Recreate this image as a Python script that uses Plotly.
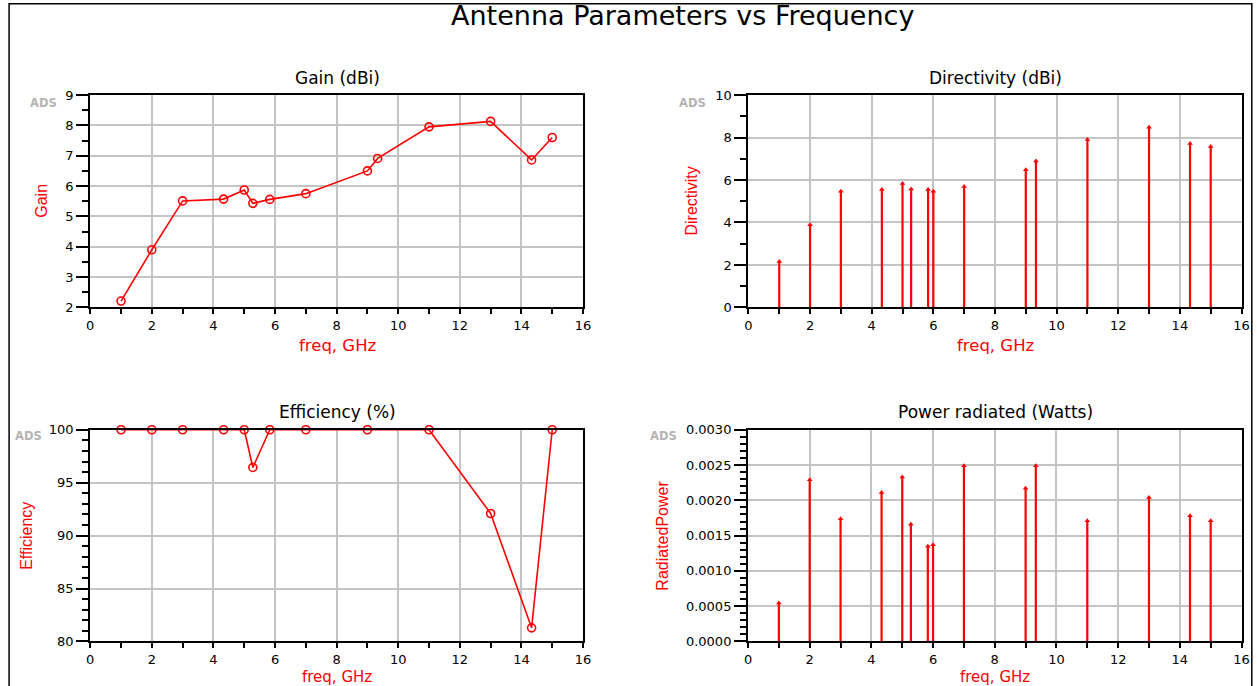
import plotly.graph_objects as go

# ---------------- data ----------------
freq_all = [1, 2, 3, 4.33, 5, 5.28, 5.83, 6, 7, 9, 9.33, 11, 13, 14.33, 15]

gain_freq = [1, 2, 3, 4.33, 5, 5.28, 5.83, 7, 9, 9.33, 11, 13, 14.33, 15]
gain_dbi = [2.21, 3.90, 5.51, 5.57, 5.87, 5.43, 5.56, 5.75, 6.50, 6.91, 7.95, 8.13, 6.86, 7.60]

directivity_dbi = [2.16, 3.89, 5.47, 5.55, 5.83, 5.57, 5.55, 5.47, 5.69, 6.48, 6.89, 7.91, 8.48, 7.72, 7.58]

eff_freq = [1, 2, 3, 4.33, 5, 5.28, 5.83, 7, 9, 11, 13, 14.33, 15]
efficiency_pct = [100, 100, 100, 100, 100, 96.44, 100, 100, 100, 100, 92.09, 81.29, 100]

power_w = [0.000544, 0.00229, 0.00174, 0.00211, 0.00233, 0.00166, 0.00135, 0.00137,
           0.00249, 0.00217, 0.00249, 0.00171, 0.00204, 0.00178, 0.00171]

x_ticks = [0, 2, 4, 6, 8, 10, 12, 14, 16]

# ---------------- layout geometry ----------------
# target picture pixels -> paper fractions (compensates the capture offset/scale)
X0, XS = 2.9, 1247.3
Y0, YS = 6.3, 670.9

def fx(px):
    return (px - X0) / XS

def fy(py):
    return 1 - (py - Y0) / YS

def px_x(a, b):
    return [fx(a), fx(b)]

def px_y(top, bottom):
    return [fy(bottom), fy(top)]

RED = "#ff0000"
FONT = "DejaVu Sans, Liberation Sans, Arial, sans-serif"
NARROW = "Liberation Sans Narrow, Liberation Sans, Arial, sans-serif"
GRID = "#c4c4c4"

fig = go.Figure()

panels = {
    "1": dict(x=px_x(89.3, 583), y=px_y(94.3, 306.7)),
    "2": dict(x=px_x(748.7, 1242.7), y=px_y(94.3, 306.7)),
    "3": dict(x=px_x(89.3, 583), y=px_y(429, 640.7)),
    "4": dict(x=px_x(748.3, 1242.7), y=px_y(429, 640.7)),
}

def xaxis_cfg(dom, anchor):
    return dict(domain=dom, anchor=anchor, range=[0, 16], tickvals=x_ticks,
                showline=True, linecolor="black", linewidth=2, mirror=True,
                showgrid=True, gridcolor=GRID, gridwidth=2, zeroline=False,
                ticks="outside", ticklen=5, tickwidth=1.5, tickcolor="black",
                minor=dict(dtick=1, tick0=0, ticks="outside", ticklen=5, tickwidth=1.5,
                           tickcolor="black", showgrid=False),
                tickfont=dict(family=FONT, size=13, color="black"))

def yaxis_cfg(dom, anchor, rng, dtick, minor_dtick, fmt=None):
    d = dict(domain=dom, anchor=anchor, range=rng, dtick=dtick, tick0=rng[0],
             showline=True, linecolor="black", linewidth=2, mirror=True,
             showgrid=True, gridcolor=GRID, gridwidth=2, zeroline=False,
             ticks="outside", ticklen=12, tickwidth=1.5, tickcolor="black",
             minor=dict(dtick=minor_dtick, tick0=rng[0], ticks="outside", ticklen=6,
                        tickwidth=1.5, tickcolor="black", showgrid=False),
             tickfont=dict(family=FONT, size=13, color="black"))
    if fmt:
        d["tickformat"] = fmt
    return d

# Gain line with open circles
fig.add_trace(go.Scatter(x=gain_freq, y=gain_dbi, mode="lines+markers",
                         line=dict(color=RED, width=1.6),
                         marker=dict(symbol="circle-open", size=8, color=RED, line=dict(width=1.6)),
                         xaxis="x", yaxis="y", showlegend=False, cliponaxis=False))

# Efficiency line with open circles
fig.add_trace(go.Scatter(x=eff_freq, y=efficiency_pct, mode="lines+markers",
                         line=dict(color=RED, width=1.6),
                         marker=dict(symbol="circle-open", size=8, color=RED, line=dict(width=1.6)),
                         xaxis="x3", yaxis="y3", showlegend=False, cliponaxis=False))

def stems(xs, ys, xa, ya):
    sx, sy = [], []
    for xv, yv in zip(xs, ys):
        sx += [xv, xv, None]
        sy += [0, yv, None]
    fig.add_trace(go.Scatter(x=sx, y=sy, mode="lines", line=dict(color=RED, width=2.2),
                             xaxis=xa, yaxis=ya, showlegend=False, hoverinfo="skip"))
    fig.add_trace(go.Scatter(x=xs, y=ys, mode="markers",
                             marker=dict(symbol="triangle-up", size=5, color=RED),
                             xaxis=xa, yaxis=ya, showlegend=False, cliponaxis=False))

stems(freq_all, directivity_dbi, "x2", "y2")
stems(freq_all, power_w, "x4", "y4")

layout = dict(
    autosize=True, margin=dict(l=0, r=0, t=0, b=0, pad=0),
    paper_bgcolor="white", plot_bgcolor="white", showlegend=False,
    xaxis=xaxis_cfg(panels["1"]["x"], "y"),
    yaxis=yaxis_cfg(panels["1"]["y"], "x", [2, 9], 1, 0.5),
    xaxis2=xaxis_cfg(panels["2"]["x"], "y2"),
    yaxis2=yaxis_cfg(panels["2"]["y"], "x2", [0, 10], 2, 1),
    xaxis3=xaxis_cfg(panels["3"]["x"], "y3"),
    yaxis3=yaxis_cfg(panels["3"]["y"], "x3", [80, 100], 5, 1),
    xaxis4=xaxis_cfg(panels["4"]["x"], "y4"),
    yaxis4=yaxis_cfg(panels["4"]["y"], "x4", [0, 0.003], 0.0005, 0.0001, ".4f"),
)
fig.update_layout(**layout)

def ann(text, x, y, size, color="black", angle=0, family=FONT):
    fig.add_annotation(text=text, x=fx(x), y=fy(y), xref="paper", yref="paper",
                       showarrow=False, textangle=angle, xanchor="center", yanchor="middle",
                       font=dict(family=family, size=size, color=color))

ann("Antenna Parameters vs Frequency", 683, 15, 27)
ann("Gain (dBi)", 337, 77, 17)
ann("Directivity (dBi)", 996, 77, 17)
ann("Efficiency (%)", 337, 411, 17)
ann("Power radiated (Watts)", 996, 411, 17)
for (xx, yy) in [(337, 345), (996, 345)]:
    ann("freq, GHz", xx, yy, 16.5, RED)
for (xx, yy) in [(337, 676.5), (996, 676.5)]:
    ann("freq, GHz", xx, yy, 15, RED)
ann("Gain", 41, 200, 16, RED, -90, NARROW)
ann("Directivity", 692, 200, 16, RED, -90, NARROW)
ann("Efficiency", 26, 535, 16, RED, -90, NARROW)
ann("RadiatedPower", 663, 535, 16, RED, -90, NARROW)
for (xx, yy) in [(42.5, 102), (693, 102), (27, 435), (664, 435)]:
    ann("<b>ADS</b>", xx, yy, 11.5, "#b4b4b4")

# frame border of the page
fig.add_shape(type="rect", xref="paper", yref="paper",
              x0=fx(8), x1=fx(1253), y0=-0.05, y1=fy(3),
              line=dict(color="black", width=1.5), fillcolor="rgba(0,0,0,0)")

post = ("document.documentElement.style.margin='0px';"
        "document.body.style.margin='0px';document.body.style.padding='0px';"
        "document.body.style.overflow='hidden';"
        "var gd=document.getElementById('{plot_id}');"
        "gd.style.position='fixed';gd.style.left='0px';gd.style.top='0px';"
        "gd.style.width='100vw';gd.style.height='100vh';"
        "Plotly.Plots.resize(gd);")

fig.write_html("out.html", default_width="100vw", default_height="100vh",
               config={"displayModeBar": False, "responsive": True},
               post_script=post)
